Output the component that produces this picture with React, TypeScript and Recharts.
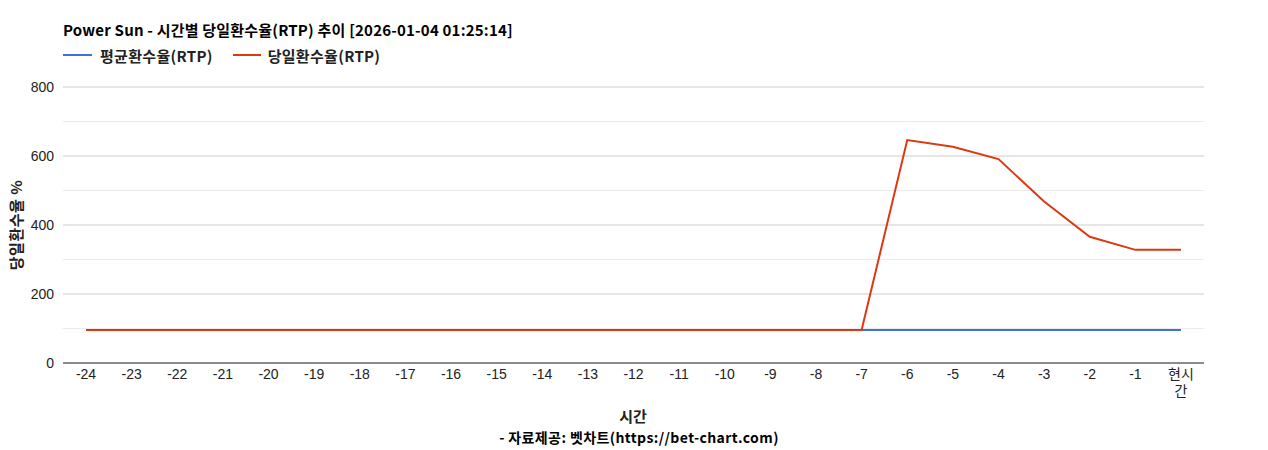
import React from 'react';
import { LineChart, Line, XAxis, YAxis, CartesianGrid, ReferenceLine } from 'recharts';

const hours = ['-24', '-23', '-22', '-21', '-20', '-19', '-18', '-17', '-16', '-15', '-14', '-13', '-12', '-11', '-10', '-9', '-8', '-7', '-6', '-5', '-4', '-3', '-2', '-1', '현시간'];
const avgRtp = [96, 96, 96, 96, 96, 96, 96, 96, 96, 96, 96, 96, 96, 96, 96, 96, 96, 96, 96, 96, 96, 96, 96, 96, 96];
const dailyRtp = [96, 96, 96, 96, 96, 96, 96, 96, 96, 96, 96, 96, 96, 96, 96, 96, 96, 96, 646, 627, 591, 468, 366, 328, 328];
const majorTicks = [0, 200, 400, 600, 800];
const minorTicks = [100, 300, 500, 700];

const data = hours.map((h, i) => ({ hour: h, avg: avgRtp[i], daily: dailyRtp[i] }));

const FONT = '"Liberation Sans", Arial, "Noto Sans CJK KR", sans-serif';
const KFONT = '"Noto Sans CJK KR", "Liberation Sans", sans-serif';
const BLUE = '#3f72d8';
const RED = '#dc3912';

const XTick = (props: any) => {
  const { x, y, payload } = props;
  const label: string = String(payload.value);
  const lines = label.length > 2 && !/^-?\d+$/.test(label) ? [label.slice(0, 2), label.slice(2)] : [label];
  return (
    <text x={x} y={y} textAnchor="middle" fill="#222" fontSize={14} fontFamily={FONT}>
      {lines.map((l, i) => (
        <tspan key={i} x={x} dy={i === 0 ? '0.71em' : '1.2em'}>{l}</tspan>
      ))}
    </text>
  );
};

export default function App() {
  return (
    <div style={{ position: 'absolute', left: 0, top: 0, width: 1268, height: 450, background: '#fff', fontFamily: KFONT }}>
      <div style={{ position: 'absolute', left: 63, top: 21, fontSize: 15, letterSpacing: 0.2, fontWeight: 700, color: '#000', whiteSpace: 'nowrap', lineHeight: '18px' }}>
        Power Sun - 시간별 당일환수율(RTP) 추이 [2026-01-04 01:25:14]
      </div>
      <div style={{ position: 'absolute', left: 63, top: 46, height: 18, display: 'flex', alignItems: 'center', fontSize: 15, letterSpacing: 0.3, fontWeight: 700, color: '#222', whiteSpace: 'nowrap' }}>
        <span style={{ display: 'inline-block', width: 29, height: 2, background: BLUE, marginRight: 8 }} />
        <span>평균환수율(RTP)</span>
        <span style={{ display: 'inline-block', width: 28, height: 2, background: RED, marginLeft: 20, marginRight: 7 }} />
        <span>당일환수율(RTP)</span>
      </div>
      <div style={{ position: 'absolute', left: 15, top: 225, transform: 'translate(-50%, -50%) rotate(-90deg)', fontSize: 15, letterSpacing: 0.5, fontWeight: 700, color: '#222', whiteSpace: 'nowrap' }}>
        당일환수율 %
      </div>
      <div style={{ position: 'absolute', left: 633, top: 415, transform: 'translate(-50%, -50%)', fontSize: 15, fontWeight: 700, color: '#222', whiteSpace: 'nowrap' }}>
        시간
      </div>
      <div style={{ position: 'absolute', left: 639, top: 437, transform: 'translate(-50%, -50%)', fontSize: 14, letterSpacing: 0.4, fontWeight: 700, color: '#000', whiteSpace: 'nowrap' }}>
        - 자료제공: 벳차트(https://bet-chart.com)
      </div>
      <div style={{ position: 'absolute', left: 0, top: 0 }}>
        <LineChart width={1268} height={450} data={data} margin={{ top: 87, right: 64, bottom: 47, left: 0 }}>
          <CartesianGrid vertical={false} stroke="#cccccc" strokeWidth={1} />
          {minorTicks.map((v) => (
            <ReferenceLine key={v} y={v} stroke="#ebebeb" strokeWidth={1} ifOverflow="extendDomain" />
          ))}
          <XAxis
            dataKey="hour"
            type="category"
            interval={0}
            height={40}
            padding={{ left: 23, right: 23 }}
            axisLine={{ stroke: '#333', strokeWidth: 1 }}
            tickLine={false}
            tickSize={0}
            tickMargin={6}
            tick={<XTick />}
          />
          <YAxis
            width={63}
            domain={[0, 800]}
            ticks={majorTicks}
            axisLine={false}
            tickLine={false}
            tickSize={0}
            tickMargin={9}
            tick={{ fill: '#222', fontSize: 14, fontFamily: FONT }}
          />
          <Line dataKey="avg" stroke={BLUE} strokeWidth={2} dot={false} isAnimationActive={false} />
          <Line dataKey="daily" stroke={RED} strokeWidth={2} dot={false} isAnimationActive={false} />
        </LineChart>
      </div>
    </div>
  );
}
